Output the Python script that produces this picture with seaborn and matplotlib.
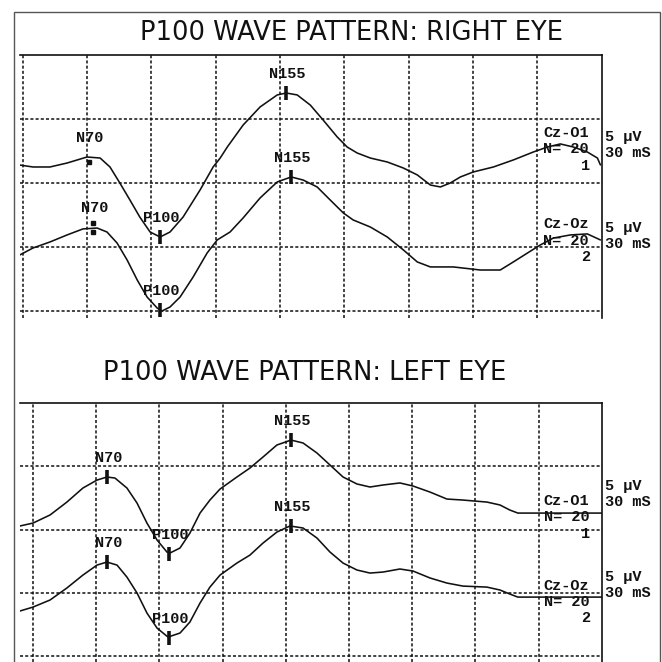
import matplotlib
matplotlib.use("Agg")
import matplotlib.pyplot as plt
from matplotlib.patches import Rectangle
import seaborn as sns
import pandas as pd

# ---------------- data (time in ms, amplitude in µV) ----------------
right_o1_t = [-1.3, 4.8, 12.7, 20.7, 30.0, 36.1, 40.7, 45.3, 50.0, 54.6, 59.4, 64.1, 68.7, 74.8,
              82.7, 88.8, 92.1, 95.4, 102.8, 110.7, 118.7, 122.9, 128.0, 134.1, 140.1, 146.7,
              151.3, 156.0, 162.1, 170.0, 177.5, 184.0, 190.1, 194.8, 199.4, 204.1, 210.1,
              219.5, 228.8, 238.1, 244.7, 250.7, 256.8, 263.3, 268.0, 269.4]
right_o1_v = [11.4, 11.25, 11.25, 11.56, 12.03, 11.95, 11.25, 10.0, 8.67, 7.34, 6.17, 5.78, 6.17, 7.34,
              9.45, 11.25, 11.95, 12.81, 14.53, 15.94, 16.88, 17.03, 16.88, 16.09, 14.92, 13.59,
              12.81, 12.34, 11.95, 11.64, 11.17, 10.63, 9.84, 9.69, 10.0, 10.47, 10.86,
              11.25, 11.80, 12.42, 12.81, 13.05, 12.81, 12.42, 11.95, 11.41]

right_oz_t = [-1.3, 4.8, 12.7, 20.7, 28.1, 34.7, 39.3, 44.0, 48.7, 53.4, 58.0, 62.7, 65.0, 68.7,
              73.4, 79.5, 86.0, 90.7, 96.7, 102.8, 110.7, 118.7, 125.2, 130.8, 137.3, 143.4,
              149.5, 154.1, 162.1, 170.0, 177.5, 184.0, 190.1, 200.8, 213.4, 222.7, 228.8,
              235.4, 241.4, 247.5, 255.4, 263.3, 269.4]
right_oz_v = [4.38, 4.92, 5.39, 5.94, 6.41, 6.48, 6.17, 5.31, 3.98, 2.42, 1.09, 0.23, 0.0, 0.31,
              1.09, 2.66, 4.53, 5.55, 6.17, 7.27, 8.83, 10.08, 10.47, 10.23, 9.69, 8.67,
              7.66, 7.11, 6.56, 5.78, 4.77, 3.83, 3.44, 3.44, 3.20, 3.20, 3.83,
              4.53, 5.16, 5.70, 5.94, 6.02, 5.55]

left_o1_t = [-6.2, 0.0, 8.1, 16.1, 23.7, 30.4, 35.1, 38.9, 44.6, 49.4, 54.1, 58.9, 63.6, 65.0,
             69.8, 74.5, 79.3, 84.0, 88.8, 96.8, 103.0, 109.2, 115.8, 122.5, 128.2, 134.8,
             141.0, 147.2, 153.8, 160.0, 166.2, 174.2, 180.4, 188.5, 196.5, 204.1, 215.5,
             221.7, 226.4, 230.2, 270.0]
left_o1_v = [10.28, 10.51, 11.15, 12.17, 13.28, 13.91, 14.15, 14.07, 13.28, 12.09, 10.51, 9.17, 8.22, 8.14,
             8.54, 9.72, 11.30, 12.33, 13.20, 14.15, 14.86, 15.73, 16.68, 17.07, 16.84, 16.05,
             15.10, 14.15, 13.60, 13.36, 13.52, 13.68, 13.44, 12.96, 12.41, 12.33, 12.17,
             11.94, 11.54, 11.30, 11.30]

left_oz_t = [-6.2, 0.0, 8.1, 16.1, 23.7, 30.4, 35.1, 39.9, 44.6, 49.4, 54.1, 58.9, 64.1, 69.8,
             74.5, 79.3, 84.0, 88.8, 96.8, 103.0, 109.2, 115.8, 122.0, 128.2, 134.8, 141.0,
             147.2, 153.8, 160.0, 166.2, 174.2, 180.4, 188.5, 196.5, 204.1, 215.5, 221.7,
             226.4, 230.2, 270.0]
left_oz_v = [3.56, 3.87, 4.43, 5.38, 6.40, 7.19, 7.43, 7.19, 6.24, 4.98, 3.40, 2.21, 1.50, 1.82,
             2.69, 4.19, 5.45, 6.40, 7.35, 7.98, 8.93, 9.80, 10.28, 10.12, 9.33, 8.22,
             7.35, 6.80, 6.56, 6.64, 6.88, 6.72, 6.17, 5.77, 5.53, 5.45, 5.22,
             4.90, 4.66, 4.66]

peak_names = ["N70", "P100", "N155"]
right_o1_peak_t = [30.7, 64.1, 122.9]
right_o1_peak_v = [12.03, 5.78, 17.03]
right_oz_peak_t = [32.8, 64.1, 125.2]
right_oz_peak_v = [6.53, 0.05, 10.47]
left_o1_peak_t = [35.1, 64.6, 122.5]
left_o1_peak_v = [14.15, 8.10, 17.05]
left_oz_peak_t = [35.1, 64.6, 122.5]
left_oz_peak_v = [7.43, 1.45, 10.28]

titles = ["P100 WAVE PATTERN: RIGHT EYE", "P100 WAVE PATTERN: LEFT EYE"]
channels = ["Cz-O1", "Cz-Oz"]
n_avg = 20
scale_labels = ["5 \u03bcV", "30 mS"]

# ---------------- styling ----------------
sns.set_theme(style="white")
plt.rcParams["font.family"] = ["DejaVu Sans"]
MONO = {"family": ["Liberation Mono", "DejaVu Sans Mono"], "weight": "bold", "size": 11}
INK = "#111111"

fig = plt.figure(figsize=(6.62, 6.62), dpi=100)
fig.patch.set_facecolor("white")

# outer scanned frame
fig.patches.append(Rectangle((13.5 / 662, -0.02), (660 - 13.5) / 662, 1 - 11.7 / 662 + 0.02,
                             transform=fig.transFigure, fill=False, edgecolor="#555555",
                             linewidth=1.0, zorder=0))

ax1 = fig.add_axes([20 / 662, (662 - 318) / 662, 581.7 / 662, 263 / 662])
ax2 = fig.add_axes([20 / 662, 0.0, 581.7 / 662, 259 / 662])


def style_axes(ax, xlim, ylim):
    ax.set_xlim(*xlim)
    ax.set_ylim(*ylim)
    ax.set_xticks([0, 30, 60, 90, 120, 150, 180, 210, 240])
    ax.set_yticks([0, 5, 10, 15])
    ax.set_xticklabels([])
    ax.set_yticklabels([])
    ax.tick_params(length=0)
    ax.grid(True, color=INK, linewidth=1.1, linestyle=(0, (2.0, 1.4)))
    ax.set_axisbelow(True)
    for side in ["left", "bottom"]:
        ax.spines[side].set_visible(False)
    for side in ["top", "right"]:
        ax.spines[side].set_visible(True)
        ax.spines[side].set_color(INK)
        ax.spines[side].set_linewidth(1.2)
    ax.set_facecolor("none")


def draw_trace(ax, t, v):
    df = pd.DataFrame({"t": t, "v": v})
    sns.lineplot(data=df, x="t", y="v", ax=ax, color=INK, linewidth=1.15,
                 estimator=None, sort=True, legend=False)
    ax.set_xlabel("")
    ax.set_ylabel("")


def draw_peaks(ax, pt, pv, dots_first=0):
    for i, (name, x, y) in enumerate(zip(peak_names, pt, pv)):
        if i == 0 and dots_first:
            if dots_first == 1:
                ax.plot([x], [y - 0.38], marker="s", markersize=2.2, color=INK, ls="none")
            else:
                ax.plot([x, x], [y + 0.35, y - 0.35], marker="s", markersize=2.6, color=INK, ls="none")
        else:
            ax.plot([x], [y], marker="|", markersize=10, markeredgewidth=2.6, color=INK, ls="none")
        ax.annotate(name, (x, y), xytext=(1, 13.7), textcoords="offset points",
                    ha="center", va="center", color=INK, **MONO)


def draw_side(ax, x_chan, x_num, x_scale, y_chan, y_n, y_num, y_s1, y_s2, ch, num):
    kw = dict(va="center", color=INK, clip_on=False, **MONO)
    ax.text(x_chan, y_chan, ch, ha="left", **kw)
    ax.text(x_chan, y_n, f"N= {n_avg}", ha="left", **kw)
    ax.text(x_num, y_num, str(num), ha="right", **kw)
    ax.text(x_scale, y_s1, scale_labels[0], ha="left", **kw)
    ax.text(x_scale, y_s2, scale_labels[1], ha="left", **kw)


# ---------------- right eye ----------------
style_axes(ax1, (-1.26, 270.0), (-0.55, 20.0))
draw_trace(ax1, right_o1_t, right_o1_v)
draw_trace(ax1, right_oz_t, right_oz_v)
draw_peaks(ax1, right_o1_peak_t, right_o1_peak_v, dots_first=1)
draw_peaks(ax1, right_oz_peak_t, right_oz_peak_v, dots_first=2)
draw_side(ax1, 242.8, 264.7, 271.7, 13.9, 12.66, 11.33, 13.6, 12.34, channels[0], 1)
draw_side(ax1, 242.8, 264.7, 271.7, 6.8, 5.47, 4.22, 6.5, 5.23, channels[1], 2)

# ---------------- left eye ----------------
style_axes(ax2, (-6.17, 270.0), (-0.47, 20.0))
draw_trace(ax2, left_o1_t, left_o1_v)
draw_trace(ax2, left_oz_t, left_oz_v)
draw_peaks(ax2, left_o1_peak_t, left_o1_peak_v)
draw_peaks(ax2, left_oz_peak_t, left_oz_peak_v)
draw_side(ax2, 242.4, 264.7, 271.5, 12.25, 10.99, 9.64, 13.44, 12.17, channels[0], 1)
draw_side(ax2, 242.4, 264.7, 271.5, 5.53, 4.27, 3.0, 6.24, 4.98, channels[1], 2)

# ---------------- titles ----------------
fig.text(351 / 662, 1 - 40 / 662, titles[0], ha="center", va="baseline", fontsize=18.5, color=INK)
fig.text(305 / 662, 1 - 380 / 662, titles[1], ha="center", va="baseline", fontsize=18.5, color=INK)

fig.savefig("out.png", dpi=100, facecolor="white")
